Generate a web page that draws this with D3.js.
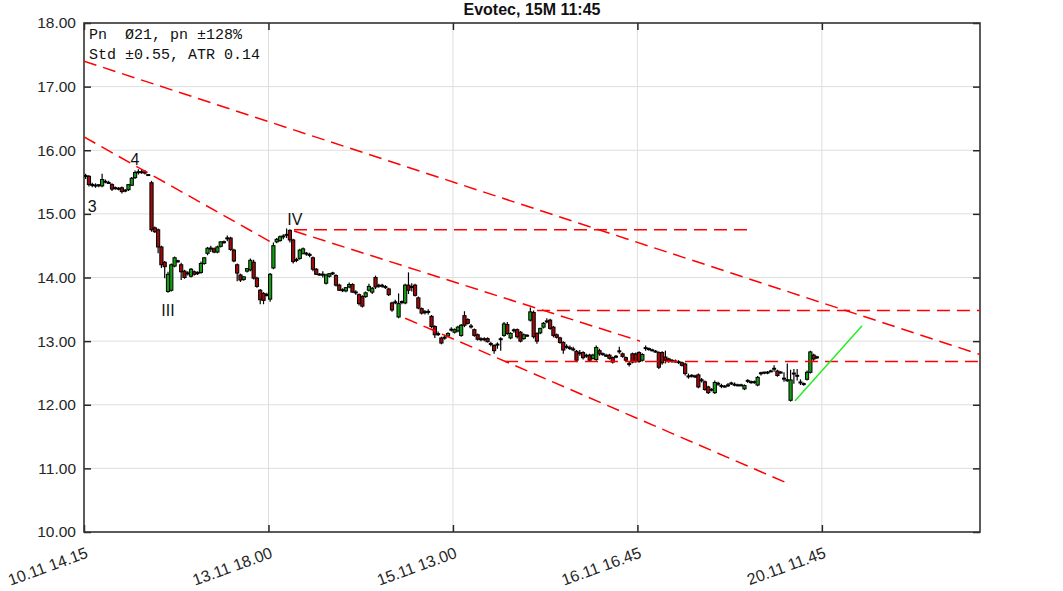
<!DOCTYPE html>
<html><head><meta charset="utf-8">
<script src="https://cdn.jsdelivr.net/npm/d3@7"></script>
<style>
html,body{margin:0;padding:0;background:#fff;}
svg{display:block;}
</style></head>
<body>
<svg id="chart" width="1063" height="591"></svg>
<script>
// ---------- DATA ----------
const title = "Evotec, 15M 11:45";
const infoLines = ["Pn  Ø21, pn ±128%", "Std ±0.55, ATR 0.14"];
const yTicks = [10, 11, 12, 13, 14, 15, 16, 17, 18];
const xTickIndex = [0, 56, 112, 168, 224];
const xTickLabels = ["10.11 14.15", "13.11 18.00", "15.11 13.00", "16.11 16.45", "20.11 11.45"];
// candles: [open, high, low, close]
const candles = [
[15.61,15.63,15.55,15.58],[15.59,15.61,15.43,15.46],[15.46,15.49,15.42,15.45],[15.45,15.48,15.41,15.44],
[15.44,15.47,15.42,15.46],[15.44,15.63,15.42,15.54],[15.51,15.54,15.48,15.50],[15.49,15.52,15.47,15.48],
[15.46,15.48,15.36,15.39],[15.41,15.43,15.38,15.40],[15.40,15.42,15.37,15.39],[15.41,15.43,15.32,15.35],
[15.37,15.39,15.34,15.36],[15.38,15.47,15.36,15.46],[15.45,15.58,15.44,15.56],[15.57,15.68,15.55,15.65],
[15.64,15.70,15.62,15.67],[15.66,15.70,15.63,15.65],[15.66,15.69,15.62,15.64],[15.61,15.62,15.60,15.61],
[15.49,15.52,14.72,14.75],[14.78,14.80,14.70,14.72],[14.75,14.77,14.38,14.48],[14.48,14.50,14.15,14.20],
[14.24,14.26,13.99,14.17],[13.78,14.09,13.76,14.05],[13.80,14.22,13.78,14.20],[14.18,14.33,14.16,14.31],
[14.25,14.28,14.23,14.26],[14.20,14.23,13.96,14.09],[14.10,14.12,13.98,14.00],[14.08,14.10,14.03,14.05],
[14.02,14.15,14.00,14.13],[14.09,14.11,14.03,14.05],[14.08,14.10,14.04,14.06],[14.08,14.25,14.06,14.22],
[14.22,14.32,14.20,14.31],[14.38,14.48,14.35,14.46],[14.45,14.50,14.40,14.46],[14.45,14.47,14.38,14.40],
[14.40,14.50,14.38,14.48],[14.49,14.57,14.47,14.56],[14.55,14.58,14.53,14.56],[14.60,14.66,14.57,14.63],
[14.62,14.64,14.42,14.44],[14.43,14.45,14.24,14.26],[14.20,14.22,13.94,14.07],[14.04,14.06,13.93,13.96],
[13.97,14.02,13.95,14.01],[14.10,14.15,14.08,14.14],[14.12,14.30,14.10,14.27],[14.24,14.28,13.97,13.99],
[13.99,14.01,13.84,13.86],[13.80,13.82,13.58,13.65],[13.75,13.77,13.58,13.64],[13.73,13.76,13.70,13.72],
[13.66,14.07,13.62,14.05],[14.15,14.55,14.13,14.50],[14.56,14.62,14.54,14.60],[14.58,14.66,14.56,14.64],
[14.63,14.68,14.60,14.66],[14.66,14.77,14.62,14.68],[14.74,14.76,14.55,14.59],[14.59,14.61,14.22,14.25],
[14.28,14.31,14.24,14.27],[14.30,14.45,14.28,14.43],[14.38,14.47,14.36,14.45],[14.38,14.40,14.34,14.37],
[14.37,14.39,14.32,14.34],[14.31,14.33,14.10,14.13],[14.13,14.15,14.04,14.05],[14.05,14.07,14.03,14.04],
[14.05,14.10,14.00,14.04],[13.91,14.06,13.89,14.04],[14.02,14.07,14.00,14.06],[14.07,14.09,14.04,14.06],
[14.03,14.05,13.86,13.88],[13.88,13.90,13.79,13.80],[13.81,13.83,13.77,13.79],[13.79,13.85,13.77,13.84],
[13.85,13.92,13.83,13.89],[13.89,13.91,13.76,13.77],[13.78,13.80,13.73,13.75],[13.73,13.75,13.56,13.59],
[13.70,13.72,13.53,13.55],[13.70,13.78,13.68,13.76],[13.80,13.90,13.78,13.86],[13.77,13.85,13.74,13.83],
[14.00,14.03,13.82,13.85],[13.88,13.90,13.84,13.86],[13.88,13.90,13.84,13.86],[13.86,13.88,13.82,13.84],
[13.82,13.84,13.71,13.73],[13.60,13.62,13.46,13.49],[13.62,13.65,13.58,13.60],[13.38,13.75,13.36,13.59],
[13.62,13.64,13.58,13.61],[13.60,13.90,13.58,13.88],[13.88,14.08,13.74,13.80],[13.86,13.91,13.78,13.84],
[13.88,13.90,13.70,13.72],[13.68,13.70,13.50,13.52],[13.51,13.53,13.42,13.44],[13.47,13.49,13.42,13.44],
[13.47,13.50,13.42,13.45],[13.39,13.41,13.20,13.23],[13.23,13.25,13.05,13.10],[13.12,13.15,13.08,13.10],
[13.05,13.07,12.95,12.97],[13.05,13.10,13.02,13.06],[13.08,13.14,13.06,13.12],[13.17,13.22,13.15,13.19],
[13.14,13.20,13.12,13.18],[13.16,13.24,13.14,13.22],[13.09,13.27,13.07,13.25],[13.40,13.47,13.22,13.25],
[13.34,13.36,13.26,13.28],[13.24,13.27,13.20,13.22],[13.18,13.20,13.07,13.09],[13.10,13.12,13.01,13.03],
[13.04,13.06,13.00,13.02],[13.04,13.06,13.00,13.02],[13.04,13.06,12.98,12.99],[12.97,12.99,12.92,12.94],
[12.93,12.95,12.80,12.85],[12.96,12.98,12.88,12.93],[13.04,13.06,12.85,13.02],[13.09,13.30,13.07,13.27],
[13.26,13.30,13.10,13.12],[13.05,13.14,13.03,13.12],[13.16,13.20,13.13,13.18],[13.18,13.20,13.04,13.07],
[13.14,13.16,12.98,13.00],[13.04,13.12,13.02,13.10],[13.09,13.11,13.07,13.08],[13.33,13.53,13.31,13.46],
[13.45,13.48,13.04,13.07],[13.12,13.14,12.96,13.00],[13.13,13.21,13.11,13.20],[13.22,13.30,13.20,13.28],
[13.30,13.36,13.28,13.32],[13.33,13.35,13.18,13.20],[13.22,13.24,13.06,13.09],[13.10,13.12,13.04,13.06],
[13.05,13.07,12.96,12.98],[12.98,13.00,12.80,12.86],[12.92,12.95,12.88,12.90],[12.90,12.93,12.86,12.88],
[12.88,12.91,12.84,12.86],[12.84,12.86,12.67,12.70],[12.82,12.86,12.77,12.80],[12.82,12.84,12.71,12.74],
[12.78,12.80,12.74,12.76],[12.78,12.80,12.67,12.70],[12.73,12.80,12.71,12.78],[12.71,12.93,12.69,12.90],
[12.85,12.88,12.77,12.80],[12.80,12.82,12.77,12.79],[12.78,12.80,12.75,12.76],[12.78,12.80,12.71,12.73],
[12.74,12.76,12.65,12.67],[12.76,12.78,12.73,12.75],[12.85,12.91,12.80,12.83],[12.80,12.82,12.74,12.76],
[12.74,12.76,12.68,12.70],[12.65,12.67,12.60,12.63],[12.80,12.82,12.65,12.67],[12.80,12.82,12.66,12.68],
[12.82,12.84,12.66,12.68],[12.70,12.81,12.68,12.79],[12.90,12.93,12.85,12.88],[12.88,12.90,12.85,12.87],
[12.86,12.88,12.84,12.85],[12.84,12.86,12.82,12.83],[12.82,12.84,12.56,12.59],[12.82,12.84,12.63,12.66],
[12.75,12.85,12.65,12.70],[12.72,12.74,12.66,12.68],[12.70,12.72,12.66,12.68],[12.69,12.71,12.66,12.67],
[12.68,12.70,12.64,12.66],[12.66,12.68,12.60,12.62],[12.64,12.66,12.46,12.49],[12.45,12.49,12.41,12.44],
[12.46,12.48,12.43,12.45],[12.45,12.47,12.42,12.44],[12.47,12.49,12.26,12.28],[12.40,12.42,12.35,12.37],
[12.36,12.38,12.22,12.24],[12.28,12.30,12.17,12.19],[12.24,12.26,12.21,12.23],[12.19,12.38,12.17,12.35],
[12.34,12.36,12.30,12.32],[12.31,12.33,12.26,12.28],[12.29,12.31,12.27,12.28],[12.30,12.34,12.28,12.31],
[12.34,12.36,12.31,12.33],[12.32,12.35,12.29,12.31],[12.31,12.33,12.29,12.30],[12.31,12.33,12.29,12.30],
[12.25,12.32,12.23,12.30],[12.37,12.40,12.34,12.38],[12.36,12.38,12.33,12.35],[12.36,12.38,12.33,12.35],
[12.31,12.45,12.29,12.43],[12.49,12.52,12.46,12.50],[12.50,12.52,12.48,12.51],[12.51,12.53,12.48,12.50],
[12.53,12.55,12.51,12.52],[12.55,12.62,12.52,12.58],[12.53,12.55,12.44,12.46],[12.51,12.53,12.49,12.50],
[12.42,12.51,12.36,12.40],[12.40,12.65,12.36,12.37],[12.07,12.55,12.05,12.39],[12.50,12.56,12.33,12.48],
[12.46,12.56,12.38,12.45],[12.36,12.40,12.31,12.34],[12.33,12.35,12.30,12.32],[12.40,12.54,12.38,12.51],
[12.51,12.85,12.49,12.83],[12.78,12.80,12.69,12.72],[12.75,12.77,12.72,12.74]
];
// trend lines: [startIndex, startPrice, endIndex, endPrice]
const redLines = [
  [0, 17.40, 272, 12.79],
  [0, 16.21, 57, 14.55],
  [63.75, 14.73, 168.8, 13.00],
  [97.5, 13.36, 214.3, 10.75],
  [63.75, 14.75, 201.6, 14.75],
  [137.5, 13.48, 272, 13.48],
  [127.8, 12.68, 272, 12.68]
];
const greenLines = [[215.8, 12.06, 236.2, 13.24]];
// wave labels: [text, index, price]
const waveLabels = [["3", 2.5, 15.12], ["4", 15.5, 15.86], ["III", 25.5, 13.49], ["IV", 64, 14.92]];

// ---------- CHART ----------
const L = 84, R = 980, T = 23, B = 532;
const svg = d3.select("#chart");
const x = d3.scaleLinear().domain([0, 272]).range([L, R]);
const y = d3.scaleLinear().domain([10, 18]).range([B, T]);
const FONT = "'Liberation Sans', Arial, sans-serif";

// grid
const g = svg.append("g");
g.selectAll("line.hg").data(yTicks.slice(1, -1)).join("line")
  .attr("x1", L).attr("x2", R).attr("y1", d => y(d)).attr("y2", d => y(d))
  .attr("stroke", "#dedede").attr("stroke-width", 1);
g.selectAll("line.vg").data(xTickIndex.slice(1)).join("line")
  .attr("x1", d => x(d)).attr("x2", d => x(d)).attr("y1", T).attr("y2", B)
  .attr("stroke", "#dedede").attr("stroke-width", 1);

// axes (ticks inward)
const yl = svg.append("g").attr("transform", `translate(${L},0)`)
  .call(d3.axisLeft(y).tickValues(yTicks).tickFormat(d3.format(".2f")).tickSize(-7).tickPadding(8));
const yr = svg.append("g").attr("transform", `translate(${R},0)`)
  .call(d3.axisRight(y).tickValues(yTicks).tickFormat("").tickSize(-7));
const xb = svg.append("g").attr("transform", `translate(0,${B})`)
  .call(d3.axisBottom(x).tickValues(xTickIndex).tickFormat("").tickSize(-7));
const xt = svg.append("g").attr("transform", `translate(0,${T})`)
  .call(d3.axisTop(x).tickValues(xTickIndex).tickFormat("").tickSize(-7));
[yl, yr, xb, xt].forEach(a => {
  a.select(".domain").remove();
  a.selectAll(".tick line").attr("stroke", "#262626").attr("stroke-width", 1.5);
});
yl.selectAll("text").attr("font-family", FONT).attr("font-size", 15.5).attr("fill", "#262626");

// x labels rotated
svg.append("g").selectAll("text").data(xTickIndex).join("text")
  .attr("transform", d => `translate(${x(d) + 3},${B + 20}) rotate(-20)`)
  .attr("text-anchor", "end").attr("dy", "0.35em")
  .attr("font-family", FONT).attr("font-size", 16).attr("fill", "#262626")
  .text((d, i) => xTickLabels[i]);

// frame
svg.append("rect").attr("x", L).attr("y", T).attr("width", R - L).attr("height", B - T)
  .attr("fill", "none").attr("stroke", "#333").attr("stroke-width", 1.6);

// plot clip
svg.append("clipPath").attr("id", "clip").append("rect")
  .attr("x", L).attr("y", T).attr("width", R - L).attr("height", B - T);
const plot = svg.append("g").attr("clip-path", "url(#clip)");

// candles
const cg = plot.append("g");
const bw = 3.2;
candles.forEach((c, i) => {
  const [o, h, l, cl] = c;
  const cx = x(i + 0.5);
  cg.append("line").attr("x1", cx).attr("x2", cx).attr("y1", y(h)).attr("y2", y(l))
    .attr("stroke", "#000").attr("stroke-width", 1.2);
  const top = y(Math.max(o, cl)), bot = y(Math.min(o, cl));
  const hgt = bot - top;
  if (hgt < 2) {
    cg.append("rect").attr("x", cx - bw / 2 - 0.4).attr("y", (top + bot) / 2 - 1)
      .attr("width", bw + 0.8).attr("height", 2).attr("fill", "#000");
  } else {
    cg.append("rect").attr("x", cx - bw / 2).attr("y", top).attr("width", bw).attr("height", hgt)
      .attr("fill", cl >= o ? "#12a012" : "#a00a0a").attr("stroke", "#000").attr("stroke-width", 1);
  }
});

// trend lines
plot.append("g").selectAll("line").data(redLines).join("line")
  .attr("x1", d => x(d[0])).attr("y1", d => y(d[1]))
  .attr("x2", d => x(d[2])).attr("y2", d => y(d[3]))
  .attr("stroke", "#ff0000").attr("stroke-width", 1.5).attr("stroke-dasharray", "13,7");
plot.append("g").selectAll("line").data(greenLines).join("line")
  .attr("x1", d => x(d[0])).attr("y1", d => y(d[1]))
  .attr("x2", d => x(d[2])).attr("y2", d => y(d[3]))
  .attr("stroke", "#22ee22").attr("stroke-width", 1.5);

// wave labels
svg.append("g").selectAll("text").data(waveLabels).join("text")
  .attr("x", d => x(d[1])).attr("y", d => y(d[2]))
  .attr("text-anchor", "middle").attr("dy", "0.35em")
  .attr("font-family", FONT).attr("font-size", 16).attr("fill", "#111")
  .text(d => d[0]);

// info text
svg.append("g").selectAll("text").data(infoLines).join("text")
  .attr("x", L + 5).attr("y", (d, i) => T + 16 + i * 20)
  .attr("font-family", "'Liberation Mono', 'DejaVu Sans Mono', monospace")
  .attr("font-size", 15).attr("fill", "#111").attr("xml:space", "preserve")
  .style("white-space", "pre")
  .text(d => d);

// title
svg.append("text").attr("x", (L + R) / 2).attr("y", 15)
  .attr("text-anchor", "middle").attr("font-family", FONT).attr("font-size", 16)
  .attr("font-weight", "bold").attr("fill", "#111").text(title);
</script>
</body></html>
